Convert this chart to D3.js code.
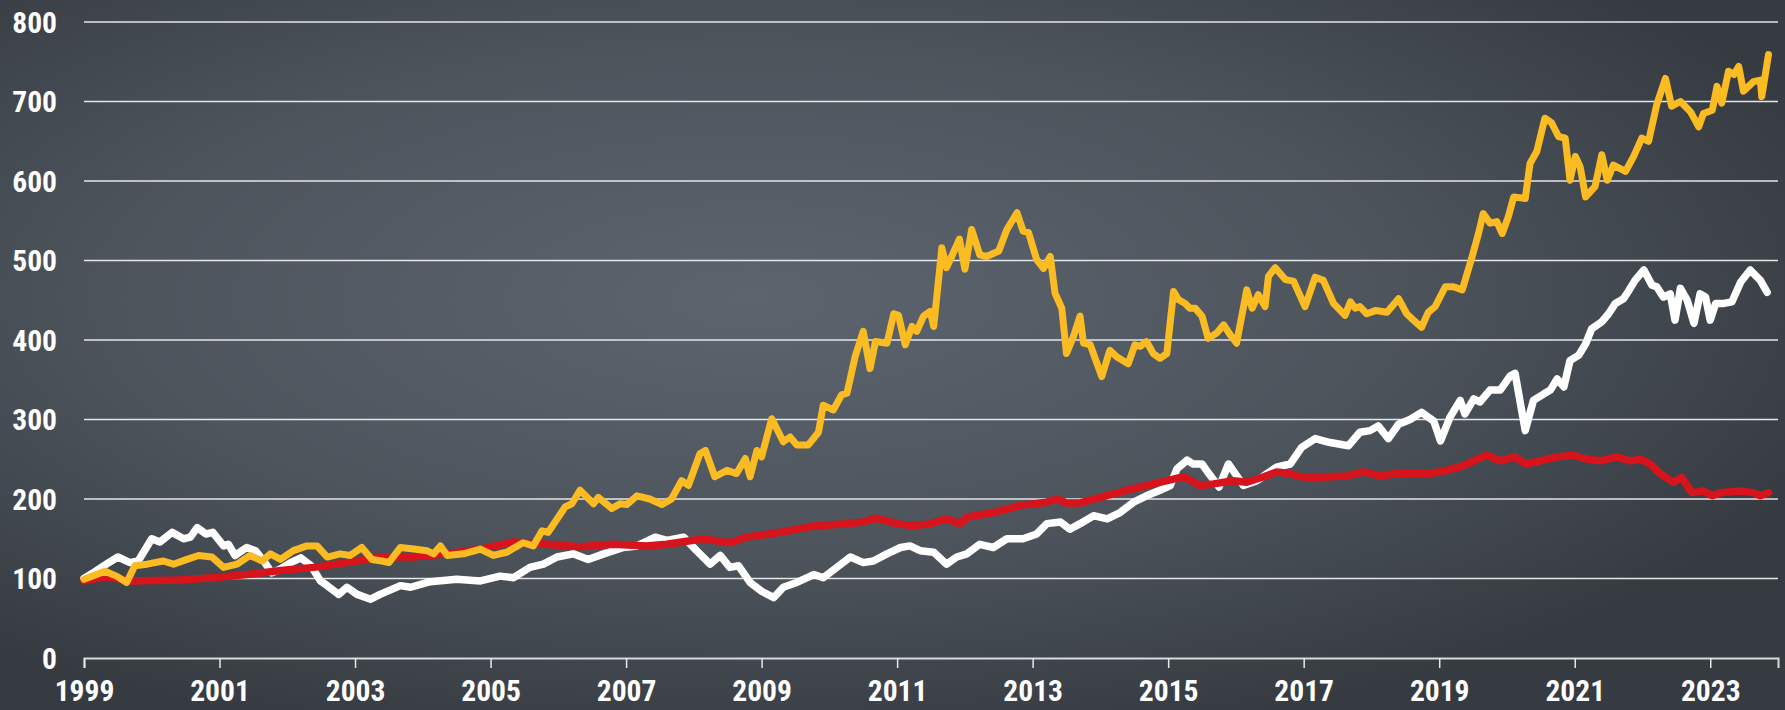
<!DOCTYPE html>
<html>
<head>
<meta charset="utf-8">
<script src="https://cdn.jsdelivr.net/npm/d3@7"></script>
<style>
  html, body { margin: 0; padding: 0; background: #3c4248; }
  svg { display: block; }
  .tick-label { font-family: "Liberation Sans Narrow", "Arial Narrow", "Roboto Condensed", "Liberation Sans", Arial, sans-serif; font-weight: bold; fill: #ffffff; }
</style>
</head>
<body>
<svg id="chart" width="1785" height="710"></svg>
<script>
// ---------- data ----------
const yTicks = [0, 100, 200, 300, 400, 500, 600, 700, 800];
const xTicks = [1999, 2001, 2003, 2005, 2007, 2009, 2011, 2013, 2015, 2017, 2019, 2021, 2023];

const whiteSeries = [
[1999.0,100],[1999.15,108],[1999.33,118],[1999.5,127],[1999.68,120],[1999.8,122],[2000.0,150],[2000.12,146],
[2000.3,158],[2000.47,150],[2000.57,152],[2000.67,164],[2000.8,156],[2000.9,158],[2001.06,141],[2001.13,143],
[2001.23,129],[2001.4,139],[2001.53,135],[2001.67,120],[2001.77,107],[2001.9,112],[2002.05,120],[2002.2,126],
[2002.35,116],[2002.49,97],[2002.59,91],[2002.76,80],[2002.88,89],[2003.03,80],[2003.23,74],[2003.37,80],
[2003.67,91],[2003.82,89],[2004.11,96],[2004.5,99],[2004.85,97],[2005.14,103],[2005.34,101],[2005.58,114],
[2005.78,118],[2005.98,127],[2006.22,131],[2006.44,124],[2006.67,131],[2006.96,139],[2007.16,141],[2007.43,152],
[2007.6,148],[2007.85,152],[2008.04,135],[2008.24,118],[2008.39,129],[2008.53,114],[2008.66,116],[2008.83,95],
[2009.0,84],[2009.18,76],[2009.32,89],[2009.52,95],[2009.77,105],[2009.91,101],[2010.11,114],[2010.31,127],
[2010.5,120],[2010.65,122],[2010.85,131],[2011.05,139],[2011.19,141],[2011.34,135],[2011.54,133],[2011.73,118],
[2011.88,127],[2012.03,131],[2012.22,143],[2012.42,139],[2012.62,150],[2012.86,150],[2013.06,156],[2013.21,169],
[2013.41,171],[2013.55,162],[2013.7,169],[2013.9,179],[2014.1,175],[2014.29,183],[2014.49,196],[2014.68,204],
[2014.88,211],[2015.03,217],[2015.13,238],[2015.28,249],[2015.37,244],[2015.5,244],[2015.6,232],[2015.75,215],
[2015.89,244],[2015.99,232],[2016.11,217],[2016.31,223],[2016.46,232],[2016.6,240],[2016.8,244],[2016.97,265],
[2017.17,276],[2017.39,271],[2017.66,267],[2017.83,284],[2017.98,286],[2018.1,292],[2018.25,276],[2018.4,294],
[2018.57,300],[2018.74,309],[2018.92,298],[2019.02,273],[2019.16,303],[2019.31,324],[2019.38,307],[2019.51,326],
[2019.6,322],[2019.75,337],[2019.9,337],[2020.05,355],[2020.12,358],[2020.27,286],[2020.39,324],[2020.54,332],
[2020.64,337],[2020.74,351],[2020.84,341],[2020.93,374],[2021.06,381],[2021.16,395],[2021.25,414],[2021.4,423],
[2021.5,433],[2021.6,446],[2021.72,452],[2021.79,461],[2021.89,475],[2022.02,488],[2022.14,469],[2022.21,467],
[2022.31,454],[2022.41,458],[2022.48,425],[2022.56,465],[2022.66,450],[2022.76,421],[2022.85,458],[2022.93,454],
[2023.0,425],[2023.08,446],[2023.2,446],[2023.32,448],[2023.45,473],[2023.59,488],[2023.74,475],[2023.84,460]
];

const redSeries = [
[1999.0,97],[1999.33,102],[1999.68,97],[2000.42,98],[2000.9,101],[2001.4,105],[2001.9,110],[2002.39,114],
[2002.88,120],[2003.37,127],[2003.87,127],[2004.36,131],[2004.85,137],[2005.34,146],[2005.83,143],[2006.32,140],
[2006.81,143],[2007.3,141],[2007.6,143],[2008.14,150],[2008.53,145],[2008.78,152],[2009.27,158],[2009.52,162],
[2009.77,166],[2010.26,169],[2010.5,171],[2010.68,176],[2011.0,169],[2011.24,166],[2011.49,169],[2011.73,175],
[2011.93,169],[2012.03,177],[2012.42,183],[2012.82,192],[2013.21,196],[2013.36,200],[2013.5,195],[2013.7,195],
[2014.0,202],[2014.39,211],[2014.78,219],[2015.03,224],[2015.23,228],[2015.47,217],[2015.67,219],[2015.96,223],
[2016.16,221],[2016.41,228],[2016.6,234],[2016.8,232],[2016.95,228],[2017.15,227],[2017.64,229],[2017.88,234],
[2018.13,229],[2018.38,232],[2018.87,232],[2019.11,236],[2019.36,242],[2019.56,250],[2019.7,255],[2019.9,248],
[2020.12,253],[2020.27,244],[2020.49,248],[2020.74,253],[2020.98,255],[2021.18,250],[2021.38,248],[2021.62,253],
[2021.82,248],[2021.97,250],[2022.12,244],[2022.26,232],[2022.46,221],[2022.58,227],[2022.73,208],[2022.9,210],
[2023.03,204],[2023.15,208],[2023.44,210],[2023.64,208],[2023.74,204],[2023.86,208]
];

const goldSeries = [
[1999.0,99],[1999.31,109],[1999.48,103],[1999.63,95],[1999.75,116],[1999.93,118],[2000.17,122],[2000.32,118],
[2000.52,124],[2000.69,129],[2000.89,127],[2001.06,114],[2001.26,118],[2001.45,129],[2001.63,122],[2001.75,131],
[2001.9,124],[2002.09,135],[2002.29,141],[2002.44,141],[2002.59,127],[2002.78,131],[2002.93,129],[2003.1,139],
[2003.25,124],[2003.4,122],[2003.5,120],[2003.67,139],[2003.87,137],[2004.06,135],[2004.16,131],[2004.26,141],
[2004.36,129],[2004.6,131],[2004.85,137],[2005.04,129],[2005.24,133],[2005.48,145],[2005.63,141],[2005.76,160],
[2005.85,158],[2006.1,190],[2006.2,194],[2006.32,211],[2006.52,194],[2006.59,202],[2006.79,188],[2006.91,194],
[2007.01,193],[2007.16,204],[2007.35,200],[2007.53,193],[2007.67,200],[2007.82,223],[2007.92,217],[2008.09,257],
[2008.17,261],[2008.31,228],[2008.49,236],[2008.63,232],[2008.76,251],[2008.83,228],[2008.93,261],[2009.0,253],
[2009.15,301],[2009.32,272],[2009.42,278],[2009.52,268],[2009.69,268],[2009.84,284],[2009.91,318],[2010.06,312],
[2010.18,331],[2010.26,333],[2010.38,379],[2010.5,411],[2010.6,364],[2010.68,398],[2010.85,396],[2010.95,433],
[2011.02,431],[2011.12,394],[2011.22,417],[2011.29,411],[2011.39,430],[2011.49,436],[2011.54,417],[2011.66,516],
[2011.73,491],[2011.81,506],[2011.92,527],[2012.0,489],[2012.1,539],[2012.22,507],[2012.32,505],[2012.5,512],
[2012.62,539],[2012.77,560],[2012.86,537],[2012.94,535],[2013.06,501],[2013.16,490],[2013.26,505],[2013.33,459],
[2013.43,440],[2013.5,383],[2013.6,404],[2013.7,430],[2013.75,396],[2013.85,394],[2014.02,354],[2014.14,387],
[2014.24,379],[2014.41,370],[2014.51,394],[2014.59,392],[2014.68,398],[2014.78,383],[2014.88,377],[2014.98,383],
[2015.08,461],[2015.15,451],[2015.25,446],[2015.32,440],[2015.4,440],[2015.5,430],[2015.59,402],[2015.72,409],
[2015.82,419],[2015.92,406],[2016.01,396],[2016.16,463],[2016.24,440],[2016.33,457],[2016.43,442],[2016.48,480],
[2016.58,491],[2016.73,476],[2016.85,474],[2017.02,442],[2017.17,479],[2017.29,475],[2017.44,446],[2017.61,431],
[2017.69,448],[2017.76,440],[2017.83,442],[2017.93,433],[2018.06,437],[2018.23,435],[2018.4,452],[2018.52,433],
[2018.62,425],[2018.74,416],[2018.84,435],[2018.94,442],[2019.09,467],[2019.21,467],[2019.34,463],[2019.48,503],
[2019.58,534],[2019.65,559],[2019.75,547],[2019.85,549],[2019.93,534],[2020.02,555],[2020.1,580],[2020.27,578],
[2020.34,622],[2020.44,637],[2020.56,679],[2020.66,673],[2020.76,656],[2020.86,654],[2020.93,601],[2021.01,631],
[2021.08,618],[2021.16,580],[2021.3,593],[2021.4,633],[2021.48,601],[2021.57,620],[2021.75,612],[2021.87,631],
[2021.99,654],[2022.09,650],[2022.21,696],[2022.34,729],[2022.43,694],[2022.56,700],[2022.71,687],[2022.83,668],
[2022.9,685],[2023.03,689],[2023.1,719],[2023.17,698],[2023.27,738],[2023.35,734],[2023.42,744],[2023.49,713],
[2023.64,725],[2023.74,727],[2023.76,706],[2023.86,759]
];

// ---------- chart ----------
const W = 1785, H = 710;
const svg = d3.select("#chart");

const defs = svg.append("defs");
const grad = defs.append("radialGradient")
  .attr("id", "bg").attr("cx", "0.42").attr("cy", "0.42").attr("r", "0.65");
grad.append("stop").attr("offset", "0").attr("stop-color", "#5c646e");
grad.append("stop").attr("offset", "0.55").attr("stop-color", "#4d545c");
grad.append("stop").attr("offset", "1").attr("stop-color", "#363b41");
svg.append("rect").attr("width", W).attr("height", H).attr("fill", "url(#bg)");

const x = d3.scaleLinear().domain([1999, 2024]).range([84, 1778]);
const y = d3.scaleLinear().domain([0, 800]).range([658, 22]);

// gridlines
svg.append("g").selectAll("line").data(yTicks.filter(d => d > 0)).join("line")
  .attr("x1", x(1999)).attr("x2", x(2024))
  .attr("y1", d => y(d)).attr("y2", d => y(d))
  .attr("stroke", "#e4e6e8").attr("stroke-width", 1.3);

// y labels
svg.append("g").selectAll("text").data(yTicks).join("text")
  .attr("class", "tick-label")
  .attr("x", 57).attr("y", d => y(d))
  .attr("dy", "0.36em")
  .attr("text-anchor", "end")
  .attr("font-size", 29.5)
  .text(d => d);

// x axis
const xAxis = d3.axisBottom(x).tickValues(xTicks).tickFormat(d3.format("d")).tickSize(10).tickPadding(12);
const gx = svg.append("g").attr("transform", `translate(0,${y(0)})`).call(xAxis);
gx.select(".domain").attr("stroke", "#d8dadc").attr("stroke-width", 2);
gx.selectAll(".tick line").attr("stroke", "#e8e8e8").attr("stroke-width", 1.5);
gx.selectAll(".tick text").attr("class", "tick-label").attr("font-size", 29.5).attr("fill", "#fff");

// lines
const line = d3.line().x(d => x(d[0])).y(d => y(d[1])).curve(d3.curveLinear);
const seriesList = [
  { data: whiteSeries, color: "#ffffff", w: 7.5 },
  { data: redSeries, color: "#d7141c", w: 7.5 },
  { data: goldSeries, color: "#fbbb22", w: 7 }
];
svg.append("g").selectAll("path").data(seriesList).join("path")
  .attr("d", s => line(s.data))
  .attr("fill", "none")
  .attr("stroke", s => s.color)
  .attr("stroke-width", s => s.w)
  .attr("stroke-linejoin", "round")
  .attr("stroke-linecap", "round");
</script>
</body>
</html>
